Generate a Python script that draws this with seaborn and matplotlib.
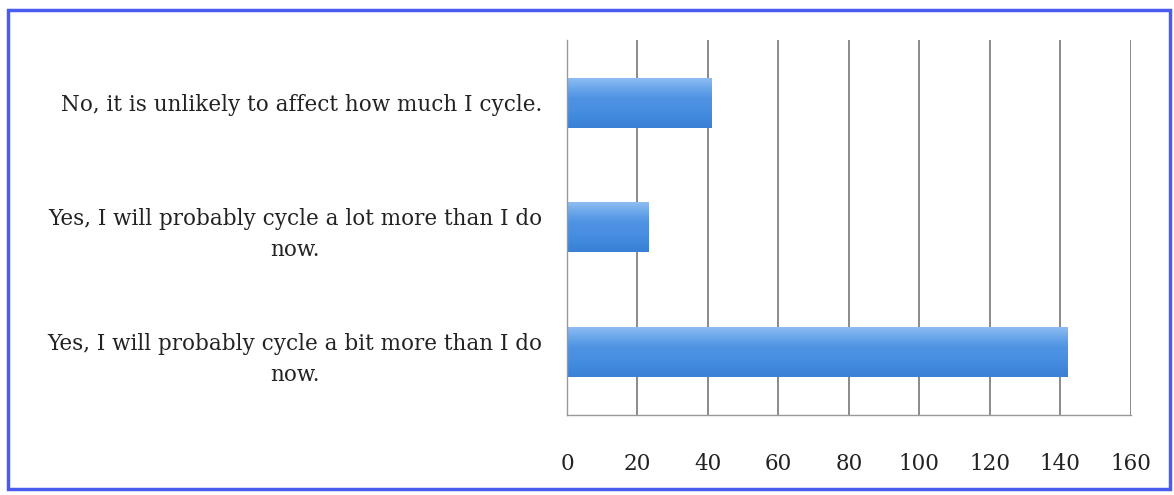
import matplotlib
matplotlib.use("Agg")
import matplotlib.pyplot as plt
import seaborn as sns
import pandas as pd
import numpy as np
from matplotlib.patches import Rectangle
from matplotlib.colors import LinearSegmentedColormap

categories = [
    "No, it is unlikely to affect how much I cycle.",
    "Yes, I will probably cycle a lot more than I do\nnow.",
    "Yes, I will probably cycle a bit more than I do\nnow.",
]
values = [41, 23, 142]
x_ticks = [0, 20, 40, 60, 80, 100, 120, 140, 160]

sns.set_theme(style="white")
plt.rcParams['font.family'] = ['DejaVu Serif']

fig = plt.figure(figsize=(11.74, 4.95), dpi=100)
ax = fig.add_axes([0.483, 0.162, 0.480, 0.757])

df = pd.DataFrame({"cat": categories, "val": values})
sns.barplot(data=df, x="val", y="cat", orient="h", color="#4a90e2",
            width=0.4, saturation=1, ax=ax, edgecolor="none", linewidth=0)

ax.set_xlim(0, 160)
ax.set_ylim(2.5, -0.5)

# gradient fill for bars, clipped to each bar patch
cmap = LinearSegmentedColormap.from_list(
    "barg", ["#8dbcf2", "#6aa6ea", "#4f93e3", "#4a8fe2", "#4189dd", "#3a80d6"])
grad = np.linspace(0, 1, 64).reshape(-1, 1)
for p in list(ax.patches):
    x0, y0 = p.get_x(), p.get_y()
    w, h = p.get_width(), p.get_height()
    im = ax.imshow(grad, cmap=cmap, aspect="auto",
                   extent=(x0, x0 + w, y0 + h, y0), origin="upper",
                   zorder=p.get_zorder() + 0.1)
    im.set_clip_path(p)
ax.set_xlim(0, 160)
ax.set_ylim(2.5, -0.5)

ax.set_xticks(x_ticks)
ax.set_xticklabels([str(t) for t in x_ticks], fontsize=15.5)
ax.set_xlabel("")
ax.set_ylabel("")

ax.set_yticks([0, 1, 2])
ax.set_yticklabels(categories, fontsize=15.5, multialignment="center", linespacing=1.55)
ax.tick_params(axis="y", which="major", length=0, pad=18)
ax.set_yticks([-0.5, 0.5, 1.5, 2.5], minor=True)
ax.tick_params(axis="y", which="minor", length=5, color="#888888", width=1, direction="out")
ax.tick_params(axis="x", length=6.5, color="#888888", width=1, direction="out", pad=21)
ax.tick_params(axis="x", labelcolor="#222222")
for lab in ax.get_yticklabels():
    lab.set_color("#222222")

ax.grid(axis="x", color="#777777", linewidth=1.2)
ax.set_axisbelow(True)
for s in ["top", "right"]:
    ax.spines[s].set_visible(False)
for s in ["left", "bottom"]:
    ax.spines[s].set_visible(True)
    ax.spines[s].set_color("#999999")
    ax.spines[s].set_linewidth(1)

fig.patches.append(Rectangle((0.007, 0.012), 0.990, 0.967, transform=fig.transFigure,
                             fill=False, edgecolor="#4a5cf0", linewidth=2.5))

fig.savefig("out.png", dpi=100)
